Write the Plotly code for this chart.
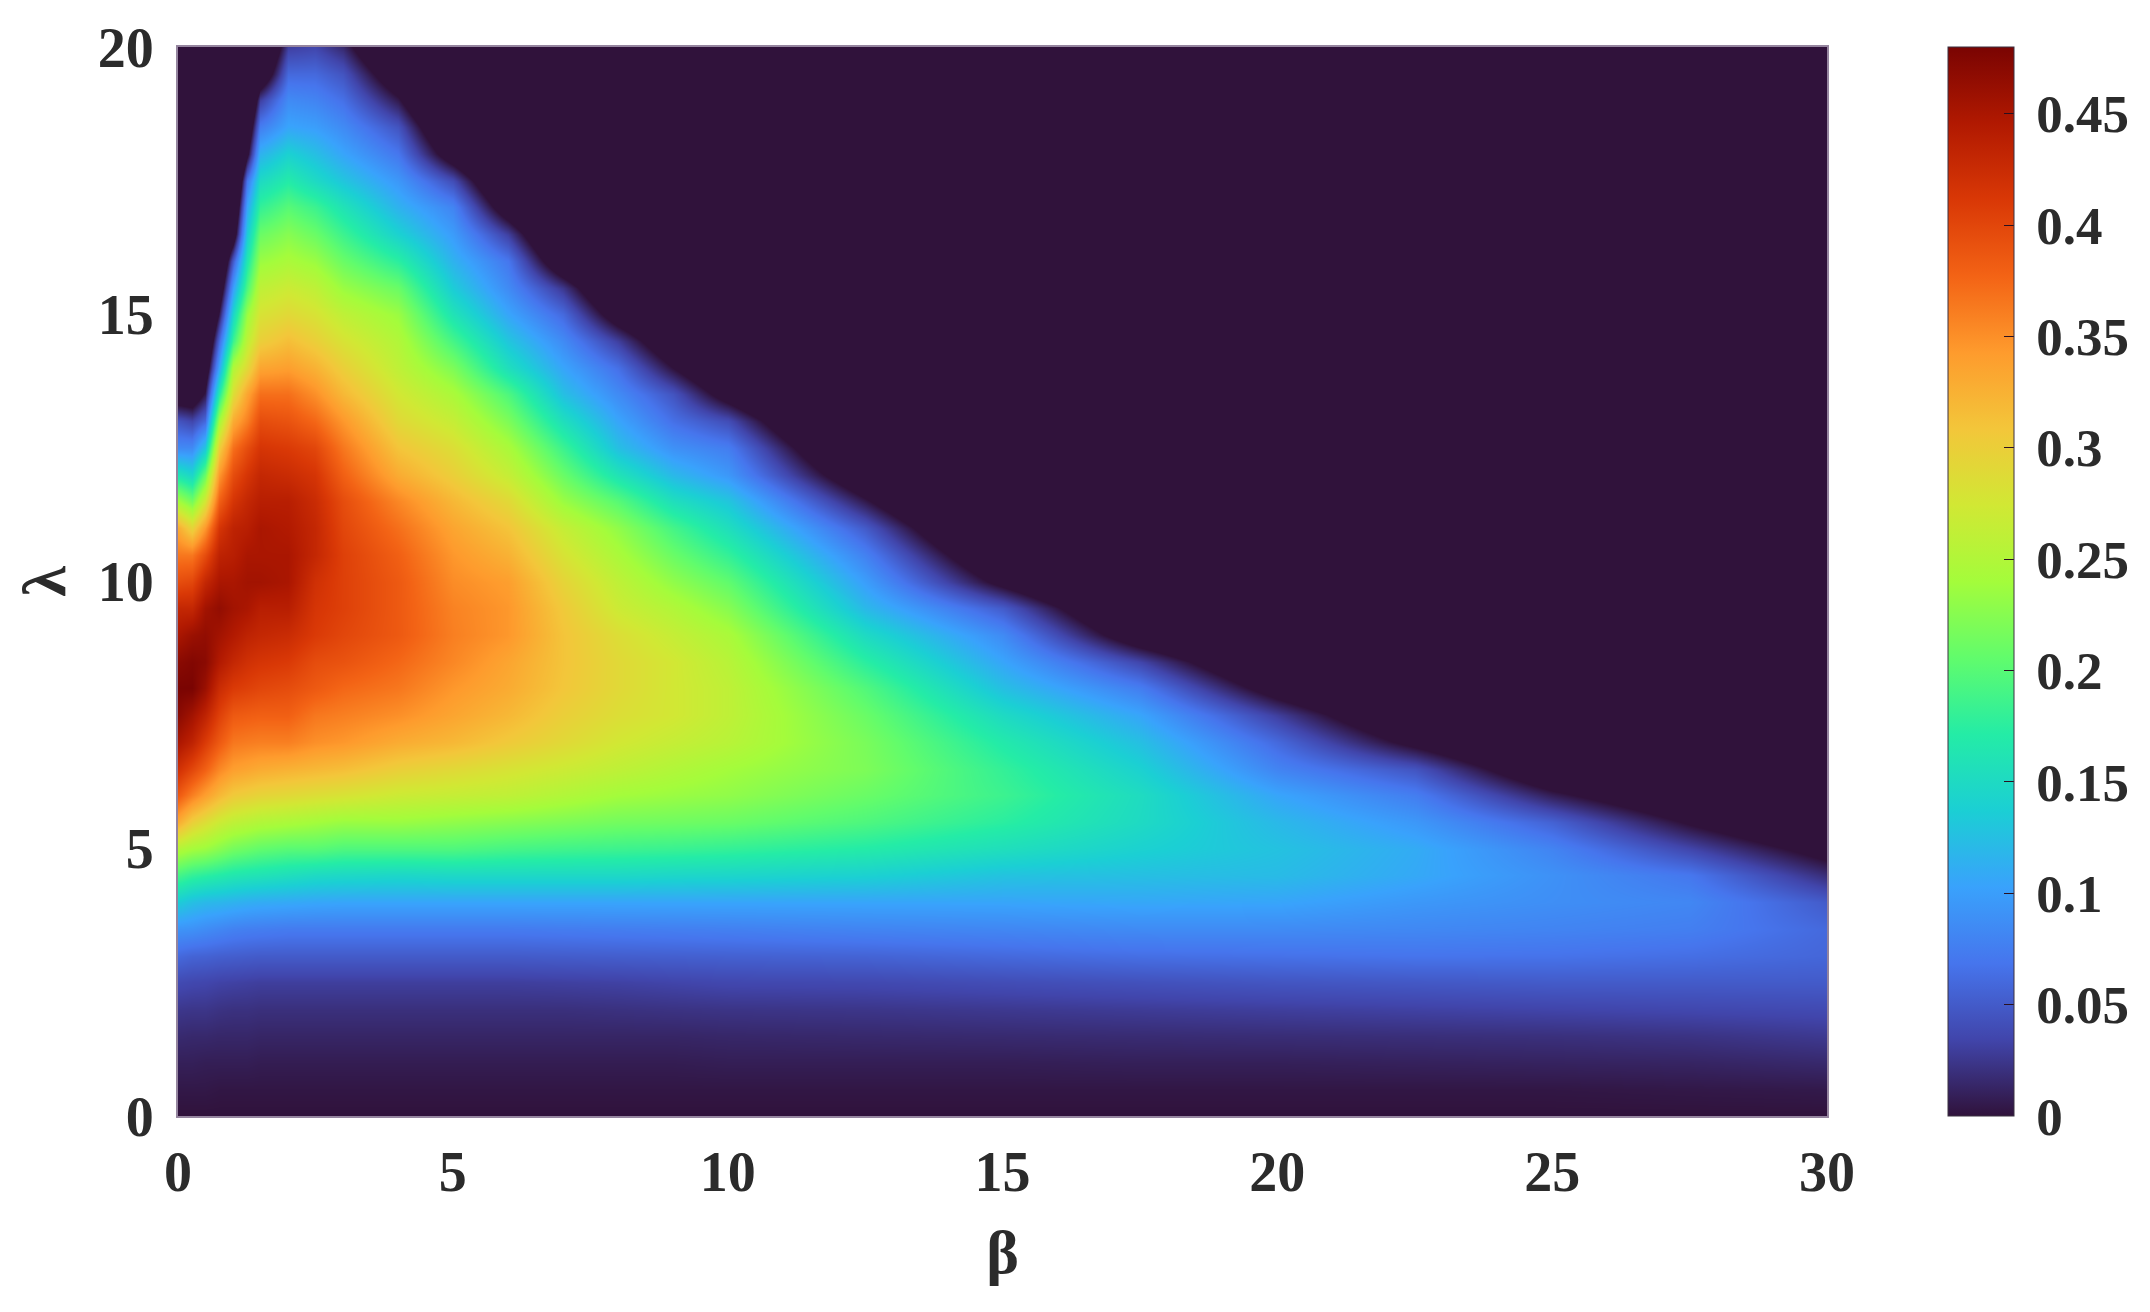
import plotly.graph_objects as go

FONT = "Liberation Serif"
X_TITLE = "β"
Y_TITLE = "λ"
x_ticks = [0, 5, 10, 15, 20, 25, 30]
y_ticks = [0, 5, 10, 15, 20]
cbar_ticks = [0, 0.05, 0.1, 0.15, 0.2, 0.25, 0.3, 0.35, 0.4, 0.45]
cbar_labels = ["0", "0.05", "0.1", "0.15", "0.2", "0.25", "0.3", "0.35", "0.4", "0.45"]

# lambda rows: 0, 0.5, ... 20
lambda_values = [i * 0.5 for i in range(41)]
beta_values = [0, 0.25, 0.5, 0.75, 1, 1.25, 1.5, 2, 2.5, 3, 4, 5, 6, 7, 8, 9, 10, 12.5, 15, 17.5, 20, 22.5, 25, 27.5, 30]

# The region above the curved edge reads as 0 on the colour bar; its values run on
# below the colour range so that the edge falls between grid rows where it was read.
BEYOND_EDGE = -0.3

# one list per beta, read upward from lambda = 0; rows above the list's end are BEYOND_EDGE
b0_0 = [0,.004,.009,.016,.025,.038,.06,.092,.135,.19,.25,.33,.385,.42,.45,.47,.48,.47,.45,.43,.395,.365,.33,.24,.16,.085,.045,-.03,-.07,-.11,-.15,-.19,-.23]
b0_25 = [0,.004,.009,.015,.024,.036,.056,.09,.125,.18,.24,.30,.36,.40,.435,.455,.48,.475,.46,.43,.40,.365,.295,.215,.145,.085,.035,-.035,-.075,-.115,-.155,-.195,-.235]
b0_5 = [0,.004,.008,.015,.024,.035,.055,.086,.12,.175,.235,.285,.34,.38,.41,.435,.46,.47,.465,.455,.43,.395,.345,.275,.21,.13,.06,.005,-.037,-.077,-.117,-.157,-.197,-.237]
b0_75 = [0,.003,.008,.014,.022,.033,.053,.082,.118,.17,.225,.27,.32,.355,.385,.405,.425,.445,.455,.465,.45,.435,.415,.38,.345,.30,.24,.17,.105,.06,.005,-.04,-.08,-.12,-.16,-.2,-.24]
b1_0 = [0,.003,.008,.014,.021,.032,.052,.078,.115,.165,.215,.26,.305,.34,.365,.385,.41,.43,.445,.455,.45,.44,.435,.415,.395,.37,.33,.285,.25,.185,.145,.10,.05,-.033,-.073,-.113,-.153,-.193,-.233]
b1_25 = [0,.003,.008,.014,.021,.031,.051,.076,.112,.162,.21,.255,.30,.335,.362,.382,.405,.42,.435,.45,.455,.45,.44,.43,.415,.395,.36,.335,.29,.26,.235,.195,.165,.135,.105,.07,-.01,-.05,-.09,-.13,-.17]
b1_5 = [0,.003,.007,.013,.02,.03,.05,.075,.11,.16,.205,.25,.295,.33,.36,.38,.40,.415,.43,.44,.455,.45,.45,.44,.43,.415,.395,.37,.335,.30,.28,.26,.235,.21,.18,.15,.115,.075,.03,-.045,-.085]
b2_0 = [0,.003,.007,.013,.02,.03,.05,.073,.108,.155,.2,.245,.29,.325,.36,.38,.395,.41,.425,.44,.45,.45,.445,.44,.425,.41,.39,.37,.34,.315,.29,.27,.245,.225,.20,.17,.14,.105,.085,.06,.03]
b2_5 = [0,.003,.007,.013,.02,.03,.05,.073,.106,.15,.2,.24,.285,.32,.35,.365,.385,.395,.41,.415,.42,.43,.43,.425,.415,.40,.375,.35,.325,.30,.28,.26,.235,.21,.185,.15,.125,.10,.08,.06,.035]
b3_0 = [0,.003,.007,.013,.02,.03,.05,.073,.105,.148,.195,.235,.28,.315,.345,.36,.375,.39,.40,.405,.405,.405,.40,.395,.38,.365,.345,.32,.30,.28,.26,.235,.21,.185,.16,.13,.105,.085,.065,.045,.015]
b4_0 = [0,.003,.007,.013,.02,.03,.05,.073,.105,.146,.195,.235,.27,.30,.33,.35,.365,.375,.385,.385,.385,.38,.37,.355,.33,.31,.29,.275,.26,.25,.235,.21,.175,.14,.115,.095,.07,.045,.005,-.035,-.075]
b5_0 = [0,.003,.007,.013,.02,.03,.05,.073,.105,.148,.195,.23,.265,.29,.32,.335,.345,.355,.36,.358,.352,.345,.335,.32,.30,.285,.265,.245,.22,.19,.16,.135,.115,.098,.08,.04,-.027,-.067,-.107,-.147,-.187]
b6_0 = [0,.003,.007,.013,.02,.03,.05,.073,.105,.148,.19,.225,.26,.28,.305,.32,.33,.335,.345,.345,.34,.325,.31,.29,.265,.245,.22,.195,.155,.13,.105,.085,.07,.03,-.03,-.07,-.11,-.15,-.19,-.23,-.27]
b7_0 = [0,.003,.007,.013,.02,.031,.051,.074,.105,.148,.187,.22,.25,.27,.29,.30,.308,.31,.31,.305,.295,.28,.265,.235,.21,.185,.155,.125,.105,.085,.06,.025,-.04,-.08,-.12,-.16,-.2,-.24,-.28]
b8_0 = [0,.003,.007,.013,.021,.032,.052,.075,.105,.148,.185,.215,.24,.26,.275,.285,.29,.29,.285,.27,.26,.245,.23,.20,.16,.125,.105,.085,.065,.03,-.025,-.065,-.105,-.145,-.185,-.225,-.265]
b9_0 = [0,.003,.007,.013,.022,.034,.053,.076,.105,.146,.183,.213,.235,.25,.265,.275,.275,.275,.265,.25,.23,.21,.19,.155,.12,.09,.065,.045,0,-.04,-.08,-.12,-.16,-.2,-.24]
b10_0 = [0,.003,.008,.014,.023,.036,.054,.077,.105,.145,.18,.21,.23,.24,.255,.26,.26,.255,.245,.225,.205,.18,.155,.13,.095,.075,.04,-.02,-.06,-.1,-.14,-.18,-.22,-.26]
b12_5 = [0,.003,.008,.015,.024,.037,.056,.08,.105,.14,.17,.195,.21,.22,.218,.21,.197,.175,.15,.12,.10,.078,.05,.005,-.04,-.08,-.12,-.16,-.2,-.24,-.28]
b15_0 = [0,.003,.008,.016,.026,.04,.06,.082,.105,.128,.155,.175,.185,.18,.168,.15,.125,.105,.085,.05,-.012,-.052,-.092,-.132,-.172,-.212,-.252]
b17_5 = [0,.003,.009,.017,.028,.043,.064,.085,.107,.125,.14,.15,.152,.14,.125,.105,.075,.035,-.03,-.07,-.11,-.15,-.19,-.23,-.27]
b20_0 = [0,.003,.009,.018,.03,.046,.066,.085,.105,.122,.127,.12,.105,.08,.06,.03,-.02,-.06,-.1,-.14,-.18,-.22,-.26]
b22_5 = [0,.003,.01,.019,.032,.048,.068,.083,.095,.108,.11,.095,.075,.045,-.011,-.051,-.091,-.131,-.171,-.211,-.251]
b25_0 = [0,.003,.011,.02,.034,.05,.067,.08,.088,.09,.08,.055,.008,-.04,-.08,-.12,-.16,-.2,-.24,-.28]
b27_5 = [0,.004,.012,.022,.036,.05,.064,.076,.082,.07,.035,-.004,-.044,-.084,-.124,-.164,-.204,-.244,-.284]
b30_0 = [0,.005,.015,.026,.038,.05,.058,.06,.05,.018,-.015,-.055,-.095,-.135,-.175,-.215,-.255]

columns = [b0_0, b0_25, b0_5, b0_75, b1_0, b1_25, b1_5, b2_0, b2_5, b3_0, b4_0, b5_0, b6_0, b7_0,
           b8_0, b9_0, b10_0, b12_5, b15_0, b17_5, b20_0, b22_5, b25_0, b27_5, b30_0]
rows = len(lambda_values)
z = [[(c[r] if r < len(c) else BEYOND_EDGE) for c in columns] for r in range(rows)]

fig = go.Figure(go.Heatmap(
    x=beta_values, y=lambda_values, z=z,
    zmin=0, zmax=0.48, zsmooth="best", colorscale="Turbo",
    hoverinfo="skip",
    colorbar=dict(
        x=(1947 - 177) / (1826 - 177), xanchor="left", xref="paper",
        y=0, yanchor="bottom", yref="paper", len=1, lenmode="fraction",
        thickness=66, thicknessmode="pixels", xpad=0, ypad=0,
        tickmode="array", tickvals=cbar_ticks,
        ticktext=["\u2009" + label for label in cbar_labels],
        ticks="inside", ticklen=10, tickwidth=1, tickcolor="#2a1020",
        tickfont=dict(family=FONT, size=53, color="#2b2b2b", weight="bold"),
        outlinecolor="#3a3040", outlinewidth=1,
    ),
))

axis_font = dict(family=FONT, size=56, color="#2b2b2b", weight="bold")
title_font = dict(family=FONT, size=62, color="#2b2b2b", weight="bold")
axis_style = dict(
    showgrid=False, zeroline=False, showline=True, mirror=True,
    linecolor="#95859f", linewidth=2, ticks="", tickfont=axis_font,
)
fig.update_xaxes(range=[0, 30], tickvals=x_ticks, ticklabelstandoff=6,
                 title=dict(text=X_TITLE, font=title_font, standoff=27),
                 **axis_style)
fig.update_yaxes(range=[0, 20], tickvals=y_ticks, ticklabelstandoff=11,
                 title=dict(text=Y_TITLE, font=title_font, standoff=12),
                 **axis_style)
fig.update_layout(
    width=2134, height=1296, autosize=False,
    margin=dict(l=170, r=315, t=39, b=188, autoexpand=False),
    paper_bgcolor="white", plot_bgcolor="white",
)
fig.write_html("out.html")
